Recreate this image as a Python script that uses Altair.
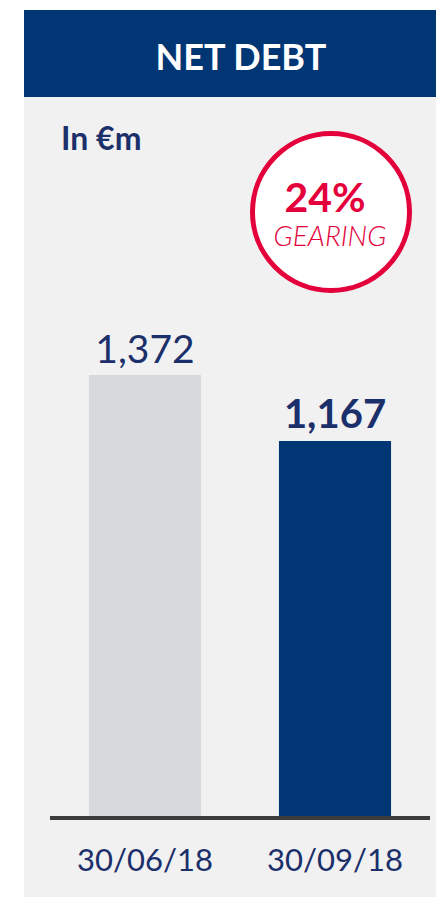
import altair as alt
import pandas as pd

# ---- data ----
dates = ["30/06/18", "30/09/18"]
net_debt = [1372, 1167]
bar_colors = ["#d8d9db", "#003673"]
title_text = ["NET DEBT"]
unit_text = ["In €m"]
gearing_pct = [24]
gearing_word = ["GEARING"]

NAVY = "#003673"
TEXT_NAVY = "#1b2f6b"
RED = "#e4003b"
FONT = "Lato"

df = pd.DataFrame({"date": dates, "value": net_debt})
one = pd.DataFrame({"title": title_text, "unit": unit_text,
                    "gearing": gearing_pct, "word": gearing_word})

W, H = 436, 897
xs = alt.Scale(domain=dates, range=[50, 430], paddingInner=0.41, paddingOuter=0.205)
ys = alt.Scale(domain=[0, 2539], range=[816, 0])

base = alt.Chart(df)
single = alt.Chart(one)

panel = single.mark_rect(color="#f1f1f1").encode(
    x=alt.value(24), x2=alt.value(W), y=alt.value(97), y2=alt.value(H))
header = single.mark_rect(color=NAVY).encode(
    x=alt.value(24), x2=alt.value(W), y=alt.value(10), y2=alt.value(97))
header_txt = single.mark_text(color="white", font=FONT, fontWeight="bold",
                              fontSize=36, align="center", baseline="alphabetic").encode(
    x=alt.value(241), y=alt.value(70), text="title:N")
unit_txt = single.mark_text(color=TEXT_NAVY, font=FONT, fontWeight="bold",
                            fontSize=32, align="left", baseline="alphabetic").encode(
    x=alt.value(61), y=alt.value(150), text="unit:N")

bars = base.mark_bar().encode(
    x=alt.X("date:N", scale=xs, axis=None),
    y=alt.Y("value:Q", scale=ys, axis=None),
    color=alt.Color("date:N", scale=alt.Scale(domain=dates, range=bar_colors), legend=None),
)
baseline = single.mark_rule(color="#3c3c3c", strokeWidth=4).encode(
    x=alt.value(50), x2=alt.value(430), y=alt.value(818))

lab_normal = base.transform_filter(alt.datum.date == dates[0]).mark_text(
    color=TEXT_NAVY, font=FONT, fontSize=39, baseline="alphabetic", dy=-12).encode(
    x=alt.X("date:N", scale=xs, axis=None),
    y=alt.Y("value:Q", scale=ys, axis=None),
    text=alt.Text("value:Q", format=",.0f"))
lab_bold = base.transform_filter(alt.datum.date == dates[1]).mark_text(
    color=TEXT_NAVY, font=FONT, fontSize=40, fontWeight="bold", baseline="alphabetic", dy=-13).encode(
    x=alt.X("date:N", scale=xs, axis=None),
    y=alt.Y("value:Q", scale=ys, axis=None),
    text=alt.Text("value:Q", format=",.0f"))
cat_labels = base.mark_text(color=TEXT_NAVY, font=FONT, fontSize=31,
                            baseline="alphabetic").encode(
    x=alt.X("date:N", scale=xs, axis=None),
    y=alt.value(871),
    text="date:N")

circle = single.mark_point(shape="circle", filled=False, fill="white", fillOpacity=1,
                           stroke=RED, strokeWidth=5, opacity=1).encode(
    x=alt.value(331), y=alt.value(212), size=alt.value(157 * 157))
pct_txt = single.transform_calculate(lbl="datum.gearing + '%'").mark_text(
    color=RED, font=FONT, fontWeight="bold", fontSize=41, baseline="alphabetic").encode(
    x=alt.value(325), y=alt.value(212), text="lbl:N")
word_txt = single.mark_text(color=RED, font=FONT, fontStyle="italic", fontWeight=300,
                            fontSize=28, baseline="alphabetic").encode(
    x=alt.value(330), y=alt.value(246), text="word:N")

chart = alt.layer(panel, header, header_txt, unit_txt, bars, baseline,
                  lab_normal, lab_bold, cat_labels, circle, pct_txt, word_txt).properties(
    width=W, height=H, padding=0, autosize=alt.AutoSizeParams(type="none"),
    background="white",
).configure_view(strokeWidth=0)

chart.save("out.html", embed_options={"renderer": "svg", "actions": False})
